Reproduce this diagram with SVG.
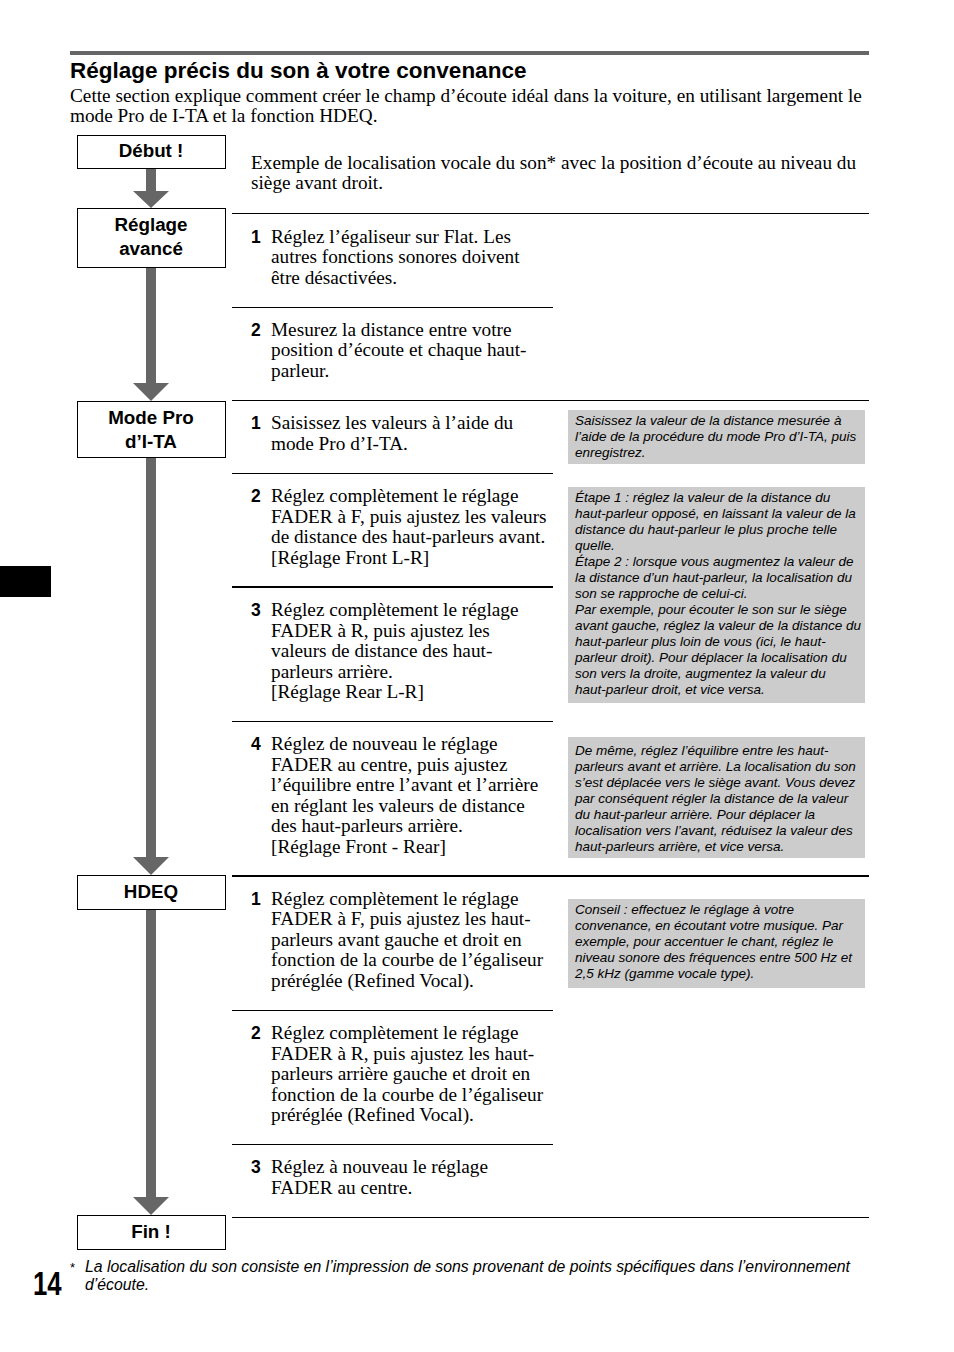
<svg xmlns="http://www.w3.org/2000/svg" width="954" height="1352" viewBox="0 0 954 1352">
<style>
.title{font-family:"Liberation Sans",Arial,sans-serif;font-weight:bold;font-size:22.5px;fill:#000}
.serif{font-family:"Liberation Serif","Times New Roman",serif;font-size:19.25px;fill:#000}
.num{font-family:"Liberation Sans",Arial,sans-serif;font-weight:bold;font-size:17.5px;fill:#000}
.lbl{font-family:"Liberation Sans",Arial,sans-serif;font-weight:bold;font-size:18.8px;fill:#000;text-anchor:middle}
.note{font-family:"Liberation Sans",Arial,sans-serif;font-style:italic;font-size:13.5px;fill:#000}
.foot{font-family:"Liberation Sans",Arial,sans-serif;font-style:italic;font-size:15.8px;fill:#000}
.box{fill:#fff;stroke:#000;stroke-width:1}
.gbox{fill:#cccccc}
.rule{stroke:#000;stroke-width:1}
.rule2{stroke:#000;stroke-width:2}
.shaft{fill:#666}
</style>
<rect x="70" y="51" width="799" height="4" fill="#666"/>
<text class="title" x="70" y="78">Réglage précis du son à votre convenance</text>
<text class="serif" x="70" y="102">Cette section explique comment créer le champ d’écoute idéal dans la voiture, en utilisant largement le</text>
<text class="serif" x="70" y="122">mode Pro de I-TA et la fonction HDEQ.</text>
<rect x="0" y="566" width="51" height="31" fill="#000"/>

<g id="connectors">
<polygon class="shaft" points="146,168 156,168 156,191 169,191 151,208 133,191 146,191"/>
<polygon class="shaft" points="146,267 156,267 156,383 169,383 151,401 133,383 146,383"/>
<polygon class="shaft" points="146,457 156,457 156,857 169,857 151,875 133,857 146,857"/>
<polygon class="shaft" points="146,909 156,909 156,1197 169,1197 151,1215 133,1197 146,1197"/>
</g>

<g id="node-debut"><rect class="box" x="77.5" y="135.5" width="148" height="33"/><text class="lbl" x="151" y="157">Début !</text></g>
<g id="node-reglage"><rect class="box" x="77.5" y="208.5" width="148" height="59"/><text class="lbl" x="151" y="231">Réglage</text><text class="lbl" x="151" y="255">avancé</text></g>
<g id="node-modepro"><rect class="box" x="77.5" y="401.5" width="148" height="56"/><text class="lbl" x="151" y="424">Mode Pro</text><text class="lbl" x="151" y="448">d’I-TA</text></g>
<g id="node-hdeq"><rect class="box" x="77.5" y="875.5" width="148" height="34"/><text class="lbl" x="151" y="898">HDEQ</text></g>
<g id="node-fin"><rect class="box" x="77.5" y="1215.5" width="148" height="34"/><text class="lbl" x="151" y="1238">Fin !</text></g>

<g id="rules">
<line class="rule" x1="232" y1="213.5" x2="869" y2="213.5"/>
<line class="rule" x1="232" y1="307.5" x2="553" y2="307.5"/>
<line class="rule" x1="232" y1="400.5" x2="869" y2="400.5"/>
<line class="rule" x1="232" y1="473.5" x2="553" y2="473.5"/>
<line class="rule2" x1="232" y1="587" x2="553" y2="587"/>
<line class="rule" x1="232" y1="721.5" x2="553" y2="721.5"/>
<line class="rule2" x1="232" y1="876" x2="869" y2="876"/>
<line class="rule" x1="232" y1="1010.5" x2="553" y2="1010.5"/>
<line class="rule" x1="232" y1="1144.5" x2="553" y2="1144.5"/>
<line class="rule" x1="232" y1="1217.5" x2="869" y2="1217.5"/>
</g>

<g id="example">
<text class="serif" x="251" y="169">Exemple de localisation vocale du son* avec la position d’écoute au niveau du</text>
<text class="serif" x="251" y="189">siège avant droit.</text>
</g>

<g id="steps">
<text class="num" x="251" y="243">1</text>
<text class="serif" x="271" y="243">Réglez l’égaliseur sur Flat. Les</text>
<text class="serif" x="271" y="263">autres fonctions sonores doivent</text>
<text class="serif" x="271" y="284">être désactivées.</text>

<text class="num" x="251" y="336">2</text>
<text class="serif" x="271" y="336">Mesurez la distance entre votre</text>
<text class="serif" x="271" y="356">position d’écoute et chaque haut-</text>
<text class="serif" x="271" y="377">parleur.</text>

<text class="num" x="251" y="429">1</text>
<text class="serif" x="271" y="429">Saisissez les valeurs à l’aide du</text>
<text class="serif" x="271" y="450">mode Pro d’I-TA.</text>

<text class="num" x="251" y="502">2</text>
<text class="serif" x="271" y="502">Réglez complètement le réglage</text>
<text class="serif" x="271" y="523">FADER à F, puis ajustez les valeurs</text>
<text class="serif" x="271" y="543">de distance des haut-parleurs avant.</text>
<text class="serif" x="271" y="564">[Réglage Front L-R]</text>

<text class="num" x="251" y="616">3</text>
<text class="serif" x="271" y="616">Réglez complètement le réglage</text>
<text class="serif" x="271" y="637">FADER à R, puis ajustez les</text>
<text class="serif" x="271" y="657">valeurs de distance des haut-</text>
<text class="serif" x="271" y="678">parleurs arrière.</text>
<text class="serif" x="271" y="698">[Réglage Rear L-R]</text>

<text class="num" x="251" y="750">4</text>
<text class="serif" x="271" y="750">Réglez de nouveau le réglage</text>
<text class="serif" x="271" y="771">FADER au centre, puis ajustez</text>
<text class="serif" x="271" y="791">l’équilibre entre l’avant et l’arrière</text>
<text class="serif" x="271" y="812">en réglant les valeurs de distance</text>
<text class="serif" x="271" y="832">des haut-parleurs arrière.</text>
<text class="serif" x="271" y="853">[Réglage Front - Rear]</text>

<text class="num" x="251" y="905">1</text>
<text class="serif" x="271" y="905">Réglez complètement le réglage</text>
<text class="serif" x="271" y="925">FADER à F, puis ajustez les haut-</text>
<text class="serif" x="271" y="946">parleurs avant gauche et droit en</text>
<text class="serif" x="271" y="966">fonction de la courbe de l’égaliseur</text>
<text class="serif" x="271" y="987">préréglée (Refined Vocal).</text>

<text class="num" x="251" y="1039">2</text>
<text class="serif" x="271" y="1039">Réglez complètement le réglage</text>
<text class="serif" x="271" y="1060">FADER à R, puis ajustez les haut-</text>
<text class="serif" x="271" y="1080">parleurs arrière gauche et droit en</text>
<text class="serif" x="271" y="1101">fonction de la courbe de l’égaliseur</text>
<text class="serif" x="271" y="1121">préréglée (Refined Vocal).</text>

<text class="num" x="251" y="1173">3</text>
<text class="serif" x="271" y="1173">Réglez à nouveau le réglage</text>
<text class="serif" x="271" y="1194">FADER au centre.</text>
</g>

<g id="notes">
<rect class="gbox" x="568" y="410" width="297" height="54"/>
<text class="note" x="575" y="425">Saisissez la valeur de la distance mesurée à</text>
<text class="note" x="575" y="441">l’aide de la procédure du mode Pro d’I-TA, puis</text>
<text class="note" x="575" y="457">enregistrez.</text>

<rect class="gbox" x="568" y="487" width="297" height="216"/>
<text class="note" x="575" y="502">Étape 1 : réglez la valeur de la distance du</text>
<text class="note" x="575" y="518">haut-parleur opposé, en laissant la valeur de la</text>
<text class="note" x="575" y="534">distance du haut-parleur le plus proche telle</text>
<text class="note" x="575" y="550">quelle.</text>
<text class="note" x="575" y="566">Étape 2 : lorsque vous augmentez la valeur de</text>
<text class="note" x="575" y="582">la distance d’un haut-parleur, la localisation du</text>
<text class="note" x="575" y="598">son se rapproche de celui-ci.</text>
<text class="note" x="575" y="614">Par exemple, pour écouter le son sur le siège</text>
<text class="note" x="575" y="630">avant gauche, réglez la valeur de la distance du</text>
<text class="note" x="575" y="646">haut-parleur plus loin de vous (ici, le haut-</text>
<text class="note" x="575" y="662">parleur droit). Pour déplacer la localisation du</text>
<text class="note" x="575" y="678">son vers la droite, augmentez la valeur du</text>
<text class="note" x="575" y="694">haut-parleur droit, et vice versa.</text>

<rect class="gbox" x="568" y="737" width="297" height="121"/>
<text class="note" x="575" y="755">De même, réglez l’équilibre entre les haut-</text>
<text class="note" x="575" y="771">parleurs avant et arrière. La localisation du son</text>
<text class="note" x="575" y="787">s’est déplacée vers le siège avant. Vous devez</text>
<text class="note" x="575" y="803">par conséquent régler la distance de la valeur</text>
<text class="note" x="575" y="819">du haut-parleur arrière. Pour déplacer la</text>
<text class="note" x="575" y="835">localisation vers l’avant, réduisez la valeur des</text>
<text class="note" x="575" y="851">haut-parleurs arrière, et vice versa.</text>

<rect class="gbox" x="568" y="899" width="297" height="89"/>
<text class="note" x="575" y="914">Conseil : effectuez le réglage à votre</text>
<text class="note" x="575" y="930">convenance, en écoutant votre musique. Par</text>
<text class="note" x="575" y="946">exemple, pour accentuer le chant, réglez le</text>
<text class="note" x="575" y="962">niveau sonore des fréquences entre 500 Hz et</text>
<text class="note" x="575" y="978">2,5 kHz (gamme vocale type).</text>
</g>

<text transform="translate(33,1295) scale(0.78,1)" style="font-family:'Liberation Sans',sans-serif;font-weight:bold;font-size:33px" fill="#000">14</text>
<text x="70" y="1272" style="font-family:'Liberation Sans',sans-serif;font-size:13px" fill="#000">*</text>
<text class="foot" x="85" y="1272">La localisation du son consiste en l’impression de sons provenant de points spécifiques dans l’environnement</text>
<text class="foot" x="85" y="1290">d’écoute.</text>
</svg>
